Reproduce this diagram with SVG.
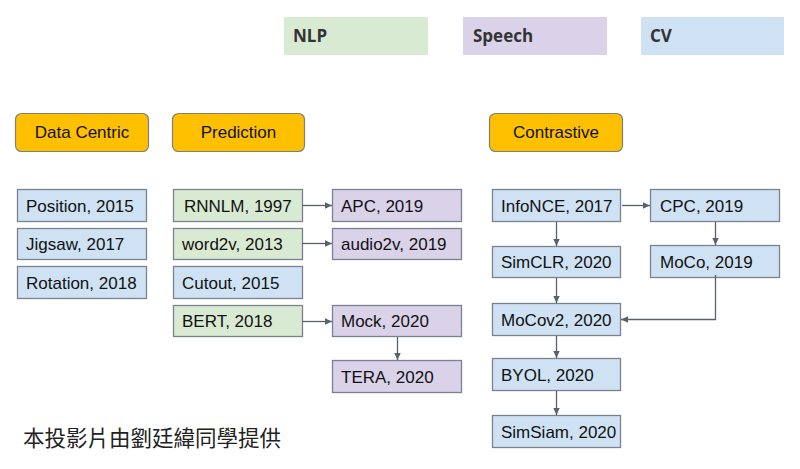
<svg xmlns="http://www.w3.org/2000/svg" width="800" height="469" viewBox="0 0 800 469">
<defs>
<style>
.lg{font-family:"Open Sans","Liberation Sans",sans-serif;font-weight:bold;font-size:17px;fill:#333}
.cat rect{fill:#FFC000;stroke:#7f7f7f;stroke-width:1.2}
.cat text{font-family:"Liberation Sans",Arial,sans-serif;font-size:17px;fill:#111;text-anchor:middle}
.n rect{stroke:#7a8290;stroke-width:1.3}
.n text{font-family:"Liberation Sans",Arial,sans-serif;font-size:17px;fill:#111}
.b rect{fill:#CFE2F3}
.g rect{fill:#D9EAD3}
.p rect{fill:#D9D2E9}
#connectors path{fill:none;stroke:#59616f;stroke-width:1.3;marker-end:url(#ah)}
</style>
<marker id="ah" markerUnits="userSpaceOnUse" markerWidth="8" markerHeight="8" refX="7" refY="4" orient="auto">
<path d="M0,0.8 L7,4 L0,7.2 Z" fill="#59616f"/>
</marker>
</defs>
<rect width="800" height="469" fill="#fff"/>

<g id="legend-nlp"><rect x="284" y="17" width="144" height="38" fill="#D9EAD3"/><text class="lg" x="293" y="42">NLP</text></g>
<g id="legend-speech"><rect x="463" y="17" width="144" height="38" fill="#D9D2E9"/><text class="lg" x="473" y="42">Speech</text></g>
<g id="legend-cv"><rect x="641" y="17" width="143" height="38" fill="#CFE2F3"/><text class="lg" x="650" y="42">CV</text></g>

<g id="cat-data" class="cat"><rect x="15.5" y="113.5" width="133" height="38" rx="6"/><text x="82" y="138">Data Centric</text></g>
<g id="cat-pred" class="cat"><rect x="172.5" y="113.5" width="132" height="38" rx="6"/><text x="238.5" y="138">Prediction</text></g>
<g id="cat-con" class="cat"><rect x="489.5" y="113.5" width="133" height="38" rx="6"/><text x="556" y="138">Contrastive</text></g>

<g id="position" class="n b"><rect x="17.5" y="189.5" width="129" height="32"/><text x="26" y="212">Position, 2015</text></g>
<g id="jigsaw" class="n b"><rect x="17.5" y="228.5" width="129" height="31"/><text x="26" y="250">Jigsaw, 2017</text></g>
<g id="rotation" class="n b"><rect x="17.5" y="266.5" width="129" height="32"/><text x="26" y="289">Rotation, 2018</text></g>

<g id="rnnlm" class="n g"><rect x="173.5" y="189.5" width="129" height="32"/><text x="184" y="212">RNNLM, 1997</text></g>
<g id="word2v" class="n g"><rect x="173.5" y="228.5" width="129" height="31"/><text x="182" y="250">word2v, 2013</text></g>
<g id="cutout" class="n b"><rect x="173.5" y="266.5" width="129" height="32"/><text x="182" y="289">Cutout, 2015</text></g>
<g id="bert" class="n g"><rect x="173.5" y="305.5" width="129" height="31"/><text x="182" y="327">BERT, 2018</text></g>

<g id="apc" class="n p"><rect x="332.5" y="189.5" width="129" height="32"/><text x="341" y="212">APC, 2019</text></g>
<g id="audio2v" class="n p"><rect x="332.5" y="228.5" width="129" height="31"/><text x="341" y="250">audio2v, 2019</text></g>
<g id="mock" class="n p"><rect x="332.5" y="305.5" width="129" height="31"/><text x="341" y="327">Mock, 2020</text></g>
<g id="tera" class="n p"><rect x="332.5" y="360.5" width="129" height="32"/><text x="341" y="383">TERA, 2020</text></g>

<g id="infonce" class="n b"><rect x="492.5" y="189.5" width="128" height="32"/><text x="501" y="212">InfoNCE, 2017</text></g>
<g id="cpc" class="n b"><rect x="650.5" y="189.5" width="129" height="32"/><text x="660" y="212">CPC, 2019</text></g>
<g id="simclr" class="n b"><rect x="492.5" y="246.5" width="128" height="31"/><text x="501" y="268">SimCLR, 2020</text></g>
<g id="moco" class="n b"><rect x="650.5" y="245.5" width="129" height="32"/><text x="660" y="268">MoCo, 2019</text></g>
<g id="mocov2" class="n b"><rect x="492.5" y="303.5" width="128" height="32"/><text x="501" y="326">MoCov2, 2020</text></g>
<g id="byol" class="n b"><rect x="492.5" y="358.5" width="128" height="32"/><text x="501" y="381">BYOL, 2020</text></g>
<g id="simsiam" class="n b"><rect x="492.5" y="415.5" width="128" height="32"/><text x="501" y="438">SimSiam, 2020</text></g>

<g id="connectors">
<path d="M302,205.5 H332"/>
<path d="M302,243.5 H332"/>
<path d="M302,321.5 H332"/>
<path d="M397.5,337 V360"/>
<path d="M622,205.5 H650"/>
<path d="M556.5,222 V246"/>
<path d="M715.5,222 V245"/>
<path d="M715.5,275 V319.5 H621"/>
<path d="M556.5,278 V303"/>
<path d="M556.5,336 V358"/>
<path d="M556.5,391 V415"/>
</g>

<text x="23" y="446" font-family="'Noto Sans CJK TC','Noto Sans CJK SC',sans-serif" font-size="21.5" fill="#222">本投影片由劉廷緯同學提供</text>
</svg>
